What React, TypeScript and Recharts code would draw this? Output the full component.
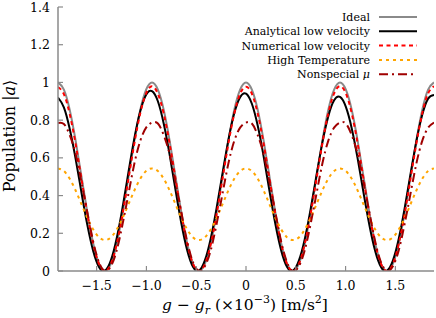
import { LineChart, Line, XAxis, YAxis } from "recharts";

// g - g_r grid (x10^-3 m/s^2)
const X = [
  -1.888, -1.829, -1.77, -1.711, -1.652, -1.593, -1.534, -1.475, -1.416, -1.357, -1.298, -1.239, -1.18,
  -1.121, -1.062, -1.003, -0.944, -0.885, -0.826, -0.767, -0.708, -0.649, -0.59, -0.531, -0.472, -0.413,
  -0.354, -0.295, -0.236, -0.177, -0.118, -0.059, 0, 0.059, 0.118, 0.177, 0.236, 0.295, 0.354, 0.413,
  0.472, 0.531, 0.59, 0.649, 0.708, 0.767, 0.826, 0.885, 0.944, 1.003, 1.062, 1.121, 1.18, 1.239, 1.298,
  1.357, 1.416, 1.475, 1.534, 1.593, 1.652, 1.711, 1.77, 1.829, 1.888,
];

const IDEAL = [
  1, 0.962, 0.854, 0.691, 0.5, 0.309, 0.146, 0.038, 0, 0.038, 0.146, 0.309, 0.5, 0.691, 0.854, 0.962,
  1, 0.962, 0.854, 0.691, 0.5, 0.309, 0.146, 0.038, 0, 0.038, 0.146, 0.309, 0.5, 0.691, 0.854, 0.962,
  1, 0.962, 0.854, 0.691, 0.5, 0.309, 0.146, 0.038, 0, 0.038, 0.146, 0.309, 0.5, 0.691, 0.854, 0.962,
  1, 0.962, 0.854, 0.691, 0.5, 0.309, 0.146, 0.038, 0, 0.038, 0.146, 0.309, 0.5, 0.691, 0.854, 0.962,
  1,
];

const ANALYTICAL = [
  0.92, 0.868, 0.753, 0.595, 0.415, 0.243, 0.105, 0.02, 0.002, 0.056, 0.175, 0.339, 0.525, 0.704, 0.847, 0.935,
  0.954, 0.9, 0.781, 0.617, 0.43, 0.252, 0.109, 0.021, 0.002, 0.056, 0.173, 0.335, 0.518, 0.694, 0.836, 0.922,
  0.941, 0.887, 0.77, 0.608, 0.424, 0.249, 0.108, 0.021, 0.002, 0.055, 0.169, 0.328, 0.508, 0.681, 0.82, 0.905,
  0.923, 0.87, 0.756, 0.597, 0.416, 0.244, 0.105, 0.02, 0.002, 0.055, 0.171, 0.332, 0.513, 0.688, 0.828, 0.914,
  0.933,
];

const NUMERICAL = [
  0.975, 0.938, 0.832, 0.673, 0.487, 0.301, 0.142, 0.037, 0, 0.037, 0.143, 0.303, 0.49, 0.677, 0.836, 0.942,
  0.98, 0.94, 0.834, 0.675, 0.489, 0.302, 0.143, 0.037, 0, 0.037, 0.142, 0.301, 0.488, 0.675, 0.834, 0.94,
  0.977, 0.94, 0.834, 0.675, 0.489, 0.302, 0.143, 0.037, 0, 0.037, 0.143, 0.302, 0.489, 0.676, 0.836, 0.942,
  0.98, 0.942, 0.836, 0.676, 0.489, 0.302, 0.143, 0.037, 0, 0.037, 0.143, 0.302, 0.489, 0.676, 0.836, 0.942,
  0.98,
];

const HIGH_TEMP = [
  0.544, 0.53, 0.489, 0.427, 0.354, 0.281, 0.22, 0.178, 0.164, 0.178, 0.22, 0.281, 0.354, 0.427, 0.489, 0.53,
  0.544, 0.53, 0.489, 0.427, 0.354, 0.281, 0.22, 0.178, 0.164, 0.178, 0.22, 0.281, 0.354, 0.427, 0.489, 0.53,
  0.544, 0.53, 0.489, 0.427, 0.354, 0.281, 0.22, 0.178, 0.164, 0.178, 0.22, 0.281, 0.354, 0.427, 0.489, 0.53,
  0.544, 0.53, 0.489, 0.427, 0.354, 0.281, 0.22, 0.178, 0.164, 0.178, 0.22, 0.281, 0.354, 0.427, 0.489, 0.53,
  0.544,
];

const NONSPECIAL = [
  0.785, 0.78, 0.72, 0.62, 0.47, 0.31, 0.155, 0.045, 0, 0.025, 0.11, 0.25, 0.41, 0.57, 0.69, 0.76,
  0.787, 0.782, 0.72, 0.62, 0.47, 0.31, 0.155, 0.045, 0, 0.025, 0.11, 0.25, 0.41, 0.57, 0.69, 0.76,
  0.787, 0.782, 0.72, 0.62, 0.47, 0.31, 0.155, 0.045, 0, 0.025, 0.11, 0.25, 0.41, 0.57, 0.69, 0.76,
  0.787, 0.782, 0.72, 0.62, 0.47, 0.31, 0.155, 0.045, 0, 0.025, 0.11, 0.25, 0.41, 0.57, 0.69, 0.76,
  0.787,
];

const X_TICKS = [-1.5, -1, -0.5, 0, 0.5, 1, 1.5];
const Y_TICKS = [0, 0.2, 0.4, 0.6, 0.8, 1, 1.2, 1.4];

const data = X.map((x, i) => ({
  x,
  ideal: IDEAL[i],
  analytical: ANALYTICAL[i],
  numerical: NUMERICAL[i],
  high: HIGH_TEMP[i],
  nonspecial: NONSPECIAL[i],
}));

const FONT = "'DejaVu Serif', 'Liberation Serif', serif";
const AXIS = "#8a8a8a";
const txt = { fontFamily: FONT };

const series = [
  { key: "ideal", label: <>Ideal</>, color: "#8a8a8a", dash: undefined, width: 2 },
  { key: "analytical", label: <>Analytical low velocity</>, color: "#000000", dash: undefined, width: 2 },
  { key: "numerical", label: <>Numerical low velocity</>, color: "#ff0000", dash: "4 3.5", width: 2 },
  { key: "high", label: <>High Temperature</>, color: "#ffa500", dash: "3 4", width: 2 },
  {
    key: "nonspecial",
    label: (
      <>
        Nonspecial <tspan fontStyle="italic">μ</tspan>
      </>
    ),
    color: "#a00000",
    dash: "9 4 2 4",
    width: 2,
  },
];

const fmtX = (v: number) => (v === 0 ? "0" : (v < 0 ? "\u2212" : "") + Math.abs(v).toFixed(1));
const fmtY = (v: number) => (v === 0 || v === 1 ? String(v) : v.toFixed(1));

const BottomTick = (p: any) => (
  <g>
    <line x1={p.x} y1={p.y} x2={p.x} y2={p.y - 5} stroke={AXIS} strokeWidth={1.2} />
    <text x={p.x} y={p.y + 18.5} textAnchor="middle" fontSize={12.5} style={txt} fill="#000">
      {fmtX(p.payload.value)}
    </text>
  </g>
);
const TopTick = (p: any) => (
  <line x1={p.x} y1={p.y} x2={p.x} y2={p.y + 5} stroke={AXIS} strokeWidth={1.2} />
);
const LeftTick = (p: any) => (
  <g>
    <line x1={p.x} y1={p.y} x2={p.x + 5} y2={p.y} stroke={AXIS} strokeWidth={1.2} />
    <text x={p.x - 8} y={p.y + 4.5} textAnchor="end" fontSize={12.5} style={txt} fill="#000">
      {fmtY(p.payload.value)}
    </text>
  </g>
);
const RightTick = (p: any) => (
  <line x1={p.x} y1={p.y} x2={p.x - 5} y2={p.y} stroke={AXIS} strokeWidth={1.2} />
);

export default function App() {
  const axisLine = { stroke: AXIS, strokeWidth: 1.5 };
  return (
    <div style={{ position: "relative", width: 436, height: 318, background: "#fff" }}>
      <style>{`body{margin:0}`}</style>
      <LineChart width={436} height={318} data={data} margin={{ top: 7, right: 2, bottom: 0, left: 0 }}>
        <XAxis
          xAxisId="b"
          dataKey="x"
          type="number"
          orientation="bottom"
          domain={[-1.888, 1.888]}
          ticks={X_TICKS}
          interval={0}
          height={47}
          tickSize={0}
          tickMargin={0}
          tickLine={false}
          axisLine={axisLine}
          tick={BottomTick}
          allowDataOverflow
        />
        <XAxis
          xAxisId="t"
          dataKey="x"
          type="number"
          orientation="top"
          domain={[-1.888, 1.888]}
          ticks={X_TICKS}
          interval={0}
          height={0}
          tickSize={0}
          tickMargin={0}
          tickLine={false}
          axisLine={axisLine}
          tick={TopTick}
          allowDataOverflow
        />
        <YAxis
          yAxisId="l"
          type="number"
          domain={[0, 1.4]}
          ticks={Y_TICKS}
          interval={0}
          width={58}
          tickSize={0}
          tickMargin={0}
          tickLine={false}
          axisLine={axisLine}
          tick={LeftTick}
          allowDataOverflow
        />
        <YAxis
          yAxisId="r"
          type="number"
          orientation="right"
          domain={[0, 1.4]}
          ticks={Y_TICKS}
          interval={0}
          width={0}
          tickSize={0}
          tickMargin={0}
          tickLine={false}
          axisLine={axisLine}
          tick={RightTick}
          allowDataOverflow
        />
        {series.map((s) => (
          <Line
            key={s.key}
            xAxisId="b"
            yAxisId="l"
            type="natural"
            dataKey={s.key}
            stroke={s.color}
            strokeWidth={s.width}
            strokeDasharray={s.dash}
            dot={false}
            activeDot={false}
            isAnimationActive={false}
          />
        ))}
      </LineChart>
      <svg
        width={436}
        height={318}
        style={{ position: "absolute", left: 0, top: 0, pointerEvents: "none", fontFamily: FONT }}
      >
        <text transform="translate(15,136) rotate(-90)" textAnchor="middle" fontSize={16} fill="#000">
          Population |<tspan fontStyle="italic">a</tspan>⟩
        </text>
        <text x={245} y={310} textAnchor="middle" fontSize={15.5} fill="#000">
          <tspan fontStyle="italic">g</tspan>
          {" \u2212 "}
          <tspan fontStyle="italic">g</tspan>
          <tspan fontStyle="italic" fontSize={11} dy={3.5}>r</tspan>
          <tspan dy={-3.5}>{" (\u00d710"}</tspan>
          <tspan fontSize={11} dy={-7}>{"\u22123"}</tspan>
          <tspan dy={7}>{") [m/s"}</tspan>
          <tspan fontSize={11} dy={-7}>2</tspan>
          <tspan dy={7}>]</tspan>
        </text>
        {series.map((s, i) => {
          const cy = 17 + i * 14.3;
          return (
            <g key={s.key}>
              <text x={370} y={cy + 4} textAnchor="end" fontSize={11} fill="#000">
                {s.label}
              </text>
              <line
                x1={379}
                y1={cy}
                x2={417}
                y2={cy}
                stroke={s.color}
                strokeWidth={s.width}
                strokeDasharray={s.dash}
              />
            </g>
          );
        })}
      </svg>
    </div>
  );
}
